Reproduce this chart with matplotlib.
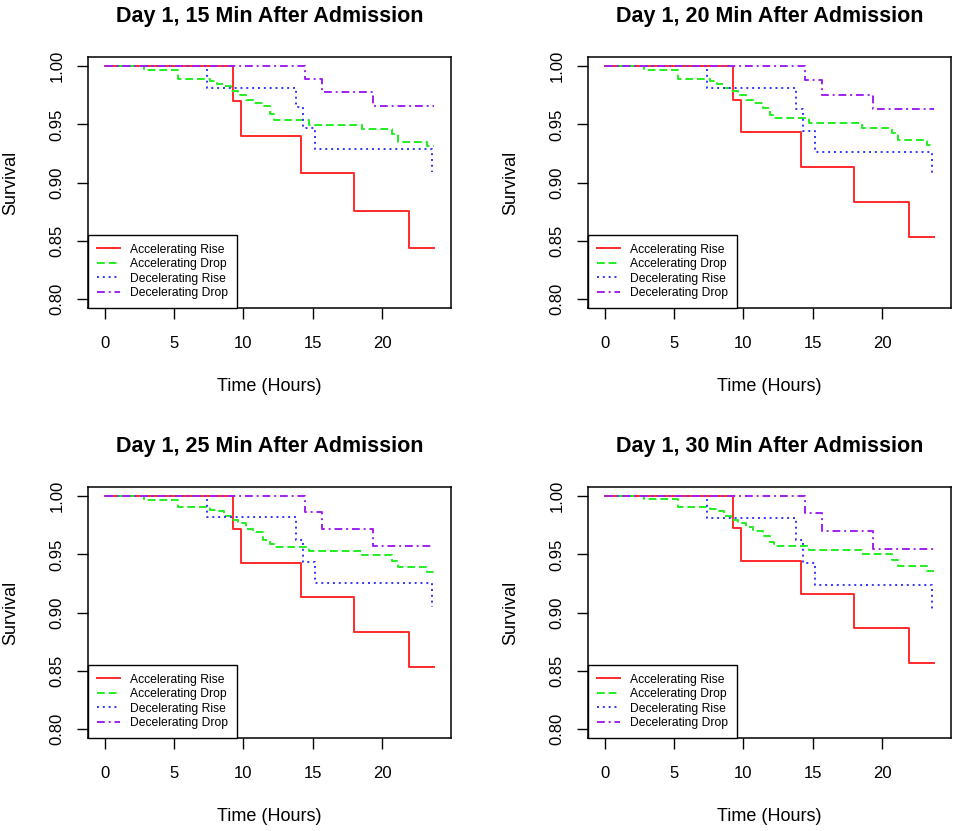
import matplotlib
matplotlib.use('Agg')
import matplotlib.pyplot as plt

plt.rcParams['font.family'] = ['Liberation Sans', 'DejaVu Sans']

# Minutes after admission for each panel
panel_minutes = [15, 20, 25, 30]

series_names = ['Accelerating Rise', 'Accelerating Drop', 'Decelerating Rise', 'Decelerating Drop']

# Step times (hours), shared by the panels
acc_rise_t = [0, 9.23, 9.83, 14.15, 17.93, 21.9, 23.75]
acc_drop_t = [0, 2.8, 5.3, 7.6, 8.1, 8.6, 9.1, 9.6, 10.2, 10.7, 11.4, 11.9, 12.2,
              14.7, 18.55, 20.7, 21.1, 23.25, 23.75]
dec_rise_t = [0, 7.4, 13.77, 14.3, 15.17, 23.55]
dec_drop_t = [0, 14.43, 15.67, 19.35, 23.75]

# Survival values per panel
acc_rise_15 = [1.0, 0.9700, 0.9397, 0.9080, 0.8757, 0.8437, 0.8437]
acc_rise_20 = [1.0, 0.9714, 0.9431, 0.9137, 0.8834, 0.8529, 0.8529]
acc_rise_25 = [1.0, 0.9716, 0.9429, 0.9137, 0.8832, 0.8528, 0.8528]
acc_rise_30 = [1.0, 0.9727, 0.9446, 0.9159, 0.8864, 0.8569, 0.8569]

acc_drop_15 = [1.0, 0.9966, 0.9891, 0.9871, 0.9850, 0.9829, 0.9786, 0.9751, 0.9714, 0.9686,
               0.9657, 0.9586, 0.9537, 0.9494, 0.9460, 0.9414, 0.9350, 0.9310, 0.9310]
acc_drop_20 = [1.0, 0.9966, 0.9894, 0.9871, 0.9850, 0.9814, 0.9790, 0.9757, 0.9714, 0.9686,
               0.9643, 0.9580, 0.9551, 0.9510, 0.9471, 0.9430, 0.9363, 0.9323, 0.9323]
acc_drop_25 = [1.0, 0.9971, 0.9905, 0.9885, 0.9870, 0.9834, 0.9793, 0.9770, 0.9722, 0.9690,
               0.9627, 0.9590, 0.9564, 0.9530, 0.9495, 0.9446, 0.9389, 0.9349, 0.9349]
acc_drop_30 = [1.0, 0.9974, 0.9908, 0.9890, 0.9870, 0.9834, 0.9800, 0.9770, 0.9733, 0.9705,
               0.9656, 0.9610, 0.9570, 0.9535, 0.9504, 0.9455, 0.9398, 0.9360, 0.9360]

dec_rise_15 = [1.0, 0.9814, 0.9646, 0.9473, 0.9291, 0.9094]
dec_rise_20 = [1.0, 0.9814, 0.9629, 0.9446, 0.9263, 0.9066]
dec_rise_25 = [1.0, 0.9819, 0.9627, 0.9435, 0.9251, 0.9048]
dec_rise_30 = [1.0, 0.9814, 0.9621, 0.9429, 0.9234, 0.9033]

dec_drop_15 = [1.0, 0.9891, 0.9777, 0.9660, 0.9660]
dec_drop_20 = [1.0, 0.9880, 0.9754, 0.9629, 0.9629]
dec_drop_25 = [1.0, 0.9862, 0.9719, 0.9575, 0.9575]
dec_drop_30 = [1.0, 0.9854, 0.9699, 0.9544, 0.9544]

acc_rise_s = [acc_rise_15, acc_rise_20, acc_rise_25, acc_rise_30]
acc_drop_s = [acc_drop_15, acc_drop_20, acc_drop_25, acc_drop_30]
dec_rise_s = [dec_rise_15, dec_rise_20, dec_rise_25, dec_rise_30]
dec_drop_s = [dec_drop_15, dec_drop_20, dec_drop_25, dec_drop_30]

x_ticks = [0, 5, 10, 15, 20]
y_ticks = [0.80, 0.85, 0.90, 0.95, 1.00]

# R-like line styles
colors = ['#ff2a2a', '#22ee22', '#3333ff', '#a020f0']
styles = ['-', (0, (4, 2)), (0, (1, 2)), (0, (4, 2, 1, 2))]

W, H = 957, 831
fig = plt.figure(figsize=(W / 100, H / 100), dpi=100)

# axes boxes in pixels: left, top, right, bottom
boxes = [(88, 57, 451, 308), (588, 57, 951, 308),
         (88, 487, 451, 738), (588, 487, 951, 738)]


def draw_panel(ax, i):
    times = [acc_rise_t, acc_drop_t, dec_rise_t, dec_drop_t]
    values = [acc_rise_s[i], acc_drop_s[i], dec_rise_s[i], dec_drop_s[i]]
    for t, s, c, ls, name in zip(times, values, colors, styles, series_names):
        ax.step(t, s, where='post', color=c, linestyle=ls, lw=1.4, label=name)

    ax.set_xlim(-1.2, 24.95)
    ax.set_ylim(0.792, 1.008)
    ax.set_xticks(x_ticks)
    ax.set_yticks(y_ticks)
    ax.set_yticklabels([f'{v:.2f}' for v in y_ticks])
    ax.tick_params(axis='both', direction='out', length=8, width=1, labelsize=12)
    ax.tick_params(axis='x', pad=12)
    ax.tick_params(axis='y', pad=9, labelrotation=90)
    for lbl in ax.get_yticklabels():
        lbl.set_va('center')
    for sp in ax.spines.values():
        sp.set_linewidth(1.1)

    ax.set_title(f'Day 1, {panel_minutes[i]} Min After Admission',
                 fontsize=15.5, fontweight='bold', y=1.139, pad=0)
    ax.set_xlabel('Time (Hours)', fontsize=13)
    ax.set_ylabel('Survival', fontsize=13)
    ax.xaxis.set_label_coords(0.5, -0.277)
    ax.yaxis.set_label_coords(-0.19, 0.5)

    leg = ax.legend(loc='lower left', bbox_to_anchor=(0, 0), borderaxespad=0,
                    fontsize=8.7, frameon=True, fancybox=False, framealpha=1,
                    edgecolor='black', handlelength=1.9, handletextpad=0.8,
                    labelspacing=0.2, borderpad=0.75)
    leg.get_frame().set_linewidth(1.0)


for i, (l, t, r, b) in enumerate(boxes):
    ax = fig.add_axes([l / W, 1 - b / H, (r - l) / W, (b - t) / H])
    draw_panel(ax, i)

fig.savefig('out.png', dpi=100)
